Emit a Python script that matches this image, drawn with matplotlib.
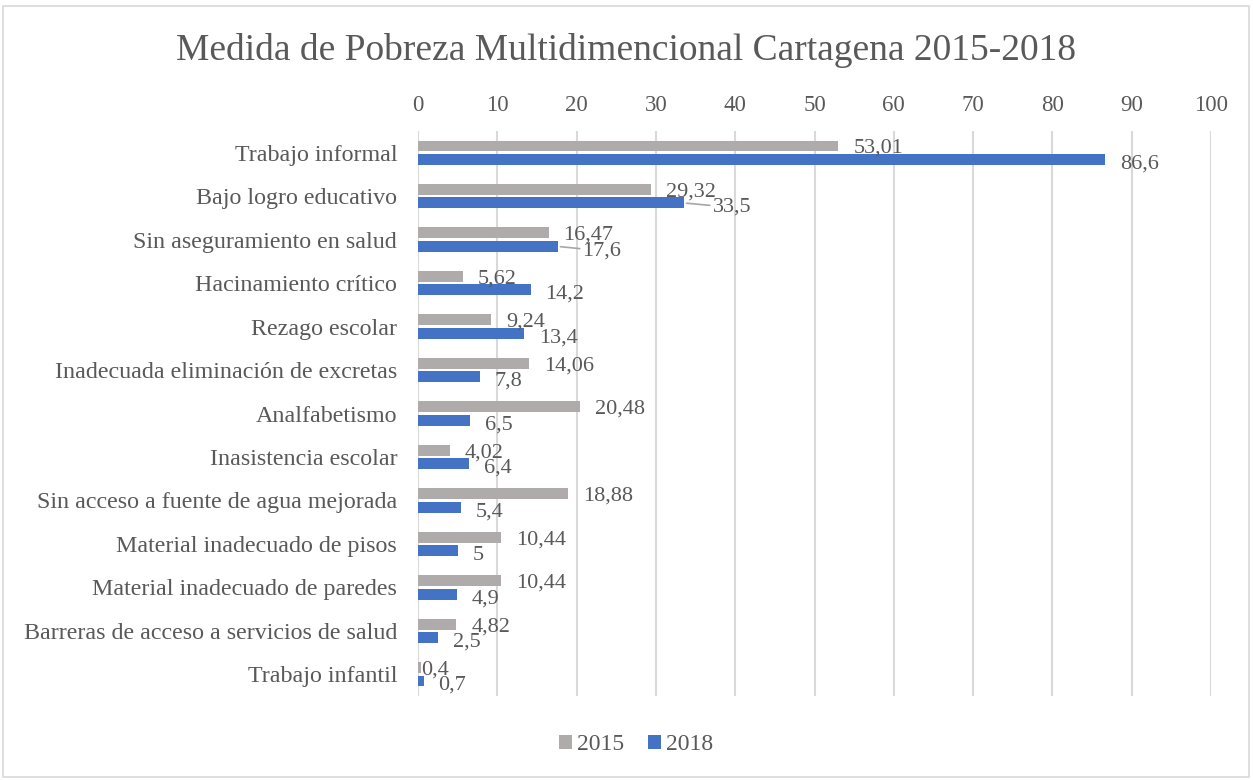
import matplotlib.pyplot as plt
from matplotlib.patches import Rectangle
import numpy as np

plt.rcParams['font.family'] = ['Liberation Serif', 'DejaVu Serif']

# Data
categories = ["Trabajo informal", "Bajo logro educativo", "Sin aseguramiento en salud",
              "Hacinamiento crítico", "Rezago escolar", "Inadecuada eliminación de excretas",
              "Analfabetismo", "Inasistencia escolar", "Sin acceso a fuente de agua mejorada",
              "Material inadecuado de pisos", "Material inadecuado de paredes",
              "Barreras de acceso a servicios de salud", "Trabajo infantil"]
v2015 = [53.01, 29.32, 16.47, 5.62, 9.24, 14.06, 20.48, 4.02, 18.88, 10.44, 10.44, 4.82, 0.4]
v2018 = [86.6, 33.5, 17.6, 14.2, 13.4, 7.8, 6.5, 6.4, 5.4, 5, 4.9, 2.5, 0.7]
years = ["2015", "2018"]
xticks = list(range(0, 101, 10))

# Colors
GRAY = "#AFABAB"
BLUE = "#4472C4"
TXT = "#595959"
GRID = "#D9D9D9"

fig = plt.figure(figsize=(12.53, 7.8), dpi=100)
ax = fig.add_axes([418/1253, 1-696/780, (1211-418)/1253, (696-131)/780])

# chart border
fig.patches.append(Rectangle((3/1253, 3/780), 1246/1253, 771/780, transform=fig.transFigure,
                             fill=False, edgecolor=GRID, linewidth=1.2))

y = np.arange(len(categories))
h = 0.25
ax.barh(y - 0.155, v2015, height=h, color=GRAY, label=years[0], zorder=3)
ax.barh(y + 0.155, v2018, height=h, color=BLUE, label=years[1], zorder=3)

ax.set_xlim(0, 100)
ax.set_ylim(len(categories) - 0.5, -0.5)
ax.set_xticks(xticks)
ax.xaxis.tick_top()
ax.set_yticks(y)
ax.set_yticklabels(categories)
ax.tick_params(axis='both', length=0, colors=TXT)
ax.tick_params(axis='x', pad=11, labelsize=16.5)
ax.tick_params(axis='y', pad=15, labelsize=17.3)
ax.grid(axis='x', color=GRID, linewidth=1.5, zorder=0)
for s in ax.spines.values():
    s.set_visible(False)


def fmt(v):
    return f"{v:g}".replace('.', ',')


# data labels (pixel offsets, with a few moved like the original)
extra15 = {12: -15}
extra18 = {1: 14, 2: 10}
for i, v in enumerate(v2015):
    dx = 15 + extra15.get(i, 0)
    ax.annotate(fmt(v), xy=(v, i - 0.155), xytext=(dx, -2.5), textcoords='offset pixels',
                va='center', ha='left', fontsize=16, color=TXT, zorder=4)
for i, v in enumerate(v2018):
    dx = 15 + extra18.get(i, 0)
    lead = dict(arrowstyle='-', color="#A6A6A6", lw=1.2, shrinkA=0, shrinkB=2) if i in extra18 else None
    ax.annotate(fmt(v), xy=(v, i + 0.155), xytext=(dx, -4.5), textcoords='offset pixels',
                va='center', ha='left', fontsize=16, color=TXT, zorder=4,
                arrowprops=lead)

fig.text(0.5, 1 - 50/780, "Medida de Pobreza Multidimencional Cartagena 2015-2018",
         ha='center', va='center', fontsize=27, color=TXT)

leg = fig.legend(loc='center', bbox_to_anchor=(636/1253, 1 - 745/780), ncol=2, frameon=False,
                 fontsize=17, handlelength=0.55, handleheight=0.55, handletextpad=0.2,
                 columnspacing=1.0)
for t in leg.get_texts():
    t.set_color(TXT)

fig.savefig("out.png", dpi=100)
